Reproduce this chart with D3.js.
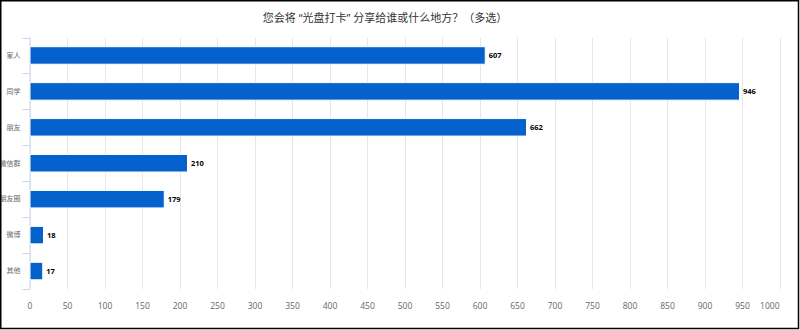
<!DOCTYPE html>
<html><head><meta charset="utf-8">
<script src="https://cdn.jsdelivr.net/npm/d3@7"></script>
<style>
html,body{margin:0;padding:0;background:#fff;}
svg{display:block;font-family:"Open Sans","Noto Sans CJK SC",sans-serif;}
</style></head>
<body><svg id="c" width="800" height="330"></svg>
<script>
const title = "您会将 “光盘打卡” 分享给谁或什么地方？（多选）";
const categories = ["家人","同学","朋友","微信群","朋友圈","微博","其他"];
const values = [607, 946, 662, 210, 179, 18, 17];
const xTicks = d3.range(0, 1001, 50);

const svg = d3.select("#c");
const W = 800, H = 330;
const m = {left: 29.5, right: 20.5, top: 37.5, bottom: 41};
const x = d3.scaleLinear().domain([0, 1000]).range([m.left, W - m.right]);
const y = d3.scaleBand().domain(categories).range([m.top, H - m.bottom]).paddingInner(0).paddingOuter(0);

svg.append("rect").attr("x",0).attr("y",0).attr("width",W).attr("height",H).attr("fill","#fff");

// title
svg.append("text").attr("x", 385).attr("y", 22).attr("text-anchor","middle")
  .attr("font-size", 11).attr("fill", "#333").attr("font-family","'Open Sans','Noto Sans CJK SC',sans-serif").text(title);

// grid
svg.append("g").selectAll("line").data(xTicks).join("line")
  .attr("x1", d => Math.round(x(d)) + 0.5).attr("x2", d => Math.round(x(d)) + 0.5)
  .attr("y1", m.top).attr("y2", H - m.bottom)
  .attr("stroke", "#e6e6e6").attr("stroke-width", 1);

// x axis labels
const xa = svg.append("g").attr("transform", `translate(0,${H - m.bottom})`)
  .call(d3.axisBottom(x).tickValues(xTicks).tickFormat(d3.format("d")).tickSize(0).tickPadding(14));
xa.select(".domain").remove();
xa.selectAll("text").attr("font-size", 8.5).attr("fill", "#666").attr("font-family","'Open Sans',sans-serif");
xa.selectAll("text").filter(d => d === 1000).attr("text-anchor","end").attr("x", -0.5);

// y axis
const ya = svg.append("g").attr("transform", `translate(${m.left},0)`)
  .call(d3.axisLeft(y).tickSize(0).tickPadding(9));
ya.select(".domain").attr("stroke", "#ccd6eb").attr("d", `M0.5,${m.top}V${H - m.bottom}`);
ya.selectAll("text").attr("font-size", 7).attr("fill", "#666").attr("font-family","'Noto Sans CJK SC',sans-serif");
const bounds = categories.map(c => y(c)).concat([H - m.bottom]);
svg.append("g").selectAll("line").data(bounds).join("line")
  .attr("x1", m.left - 7).attr("x2", m.left + 0.5)
  .attr("y1", d => Math.round(d) + 0.5).attr("y2", d => Math.round(d) + 0.5)
  .attr("stroke", "#ccd6eb").attr("stroke-width", 1);

// bars
const bh = 17.5;
svg.append("g").selectAll("rect").data(values).join("rect")
  .attr("x", x(0) + 0.5)
  .attr("y", (d, i) => y(categories[i]) + y.bandwidth() / 2 - bh / 2)
  .attr("width", d => x(d) - x(0))
  .attr("height", bh)
  .attr("fill", "#0561cb").attr("stroke", "#ffffff").attr("stroke-width", 1);

// data labels
svg.append("g").selectAll("text").data(values).join("text")
  .attr("x", d => x(d) + 4)
  .attr("y", (d, i) => y(categories[i]) + y.bandwidth() / 2 + 3)
  .attr("font-size", 7.5).attr("font-weight", "bold").attr("fill", "#000")
  .attr("stroke","#fff").attr("stroke-width",1.5).attr("paint-order","stroke")
  .attr("font-family","'Open Sans',sans-serif")
  .text(d => d);

// frame
svg.append("rect").attr("x", 0.75).attr("y", 0.75).attr("width", W - 2.25).attr("height", H - 2.25)
  .attr("fill", "none").attr("stroke", "#000").attr("stroke-width", 1.5);
</script></body></html>
